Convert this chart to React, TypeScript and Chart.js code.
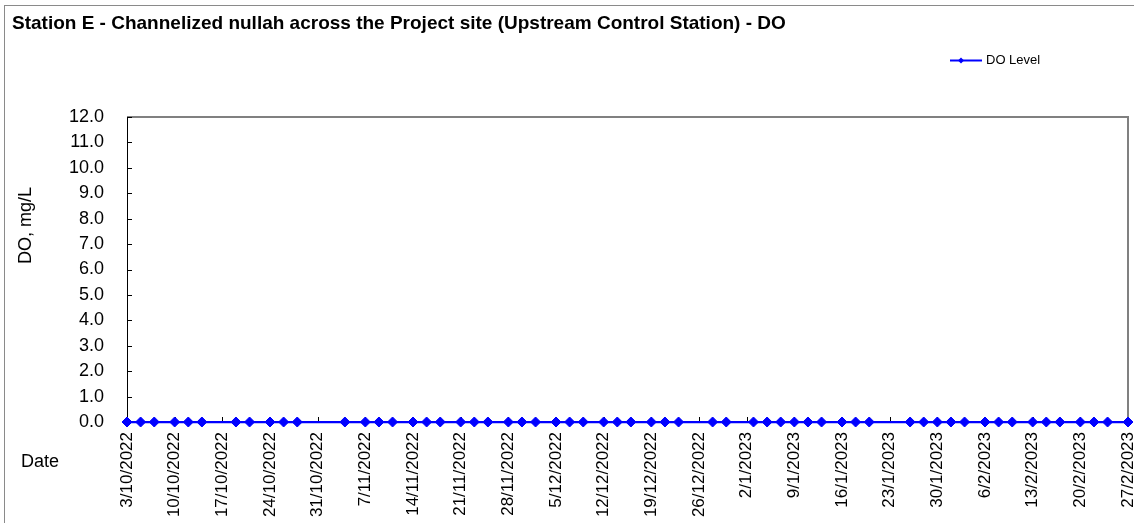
import React, { useEffect, useRef } from "react";
import { Chart, registerables } from "chart.js";

Chart.register(...registerables);

// ---------- data ----------
const CHART_TITLE =
  "Station E - Channelized nullah across the Project site (Upstream Control Station) - DO";
const SERIES_LABEL = "DO Level";
const Y_AXIS_TITLE = "DO, mg/L";
const X_AXIS_TITLE = "Date";

const AXIS_START_DATE = "3/10/2022";
const AXIS_END_DATE = "27/2/2023";
const X_TICK_STEP_DAYS = 7;

const Y_MIN = 0;
const Y_MAX = 12;
const Y_STEP = 1;

const SAMPLE_DATES = [
  "3/10/2022", "5/10/2022", "7/10/2022", "10/10/2022", "12/10/2022", "14/10/2022",
  "19/10/2022", "21/10/2022", "24/10/2022", "26/10/2022", "28/10/2022",
  "4/11/2022", "7/11/2022", "9/11/2022", "11/11/2022", "14/11/2022", "16/11/2022",
  "18/11/2022", "21/11/2022", "23/11/2022", "25/11/2022", "28/11/2022", "30/11/2022",
  "2/12/2022", "5/12/2022", "7/12/2022", "9/12/2022", "12/12/2022", "14/12/2022",
  "16/12/2022", "19/12/2022", "21/12/2022", "23/12/2022", "28/12/2022", "30/12/2022",
  "3/1/2023", "5/1/2023", "7/1/2023", "9/1/2023", "11/1/2023", "13/1/2023",
  "16/1/2023", "18/1/2023", "20/1/2023", "26/1/2023", "28/1/2023", "30/1/2023",
  "1/2/2023", "3/2/2023", "6/2/2023", "8/2/2023", "10/2/2023", "13/2/2023",
  "15/2/2023", "17/2/2023", "20/2/2023", "22/2/2023", "24/2/2023", "27/2/2023",
];

const DO_VALUES = [
  0, 0, 0, 0, 0, 0,
  0, 0, 0, 0, 0,
  0, 0, 0, 0, 0, 0,
  0, 0, 0, 0, 0, 0,
  0, 0, 0, 0, 0, 0,
  0, 0, 0, 0, 0, 0,
  0, 0, 0, 0, 0, 0,
  0, 0, 0, 0, 0, 0,
  0, 0, 0, 0, 0, 0,
  0, 0, 0, 0, 0, 0,
];

// ---------- helpers ----------
const DAY_MS = 86400000;
function parseDMY(s: string): number {
  const [d, m, y] = s.split("/").map(Number);
  return Date.UTC(y, m - 1, d);
}
const START_MS = parseDMY(AXIS_START_DATE);
function dayOffset(s: string): number {
  return Math.round((parseDMY(s) - START_MS) / DAY_MS);
}
function formatDay(off: number): string {
  const dt = new Date(START_MS + off * DAY_MS);
  return `${dt.getUTCDate()}/${dt.getUTCMonth() + 1}/${dt.getUTCFullYear()}`;
}

const W = 1134;
const H = 523;
const FONT = "Arial, 'Liberation Sans', sans-serif";
const SERIES_COLOR = "#0000FF";

const decorPlugin = {
  id: "decor",
  beforeDraw(chart: any) {
    const ctx = chart.ctx;
    ctx.save();
    ctx.fillStyle = "#ffffff";
    ctx.fillRect(0, 0, chart.width, chart.height);
    ctx.strokeStyle = "#8a8a8a";
    ctx.lineWidth = 1;
    ctx.strokeRect(4.5, 5.5, chart.width + 20, chart.height + 20);
    ctx.restore();
  },
  beforeDatasetsDraw(chart: any) {
    const ctx = chart.ctx;
    const { left, right, top, bottom } = chart.chartArea;
    ctx.save();
    // top and right plot border (grey)
    ctx.strokeStyle = "#808080";
    ctx.lineWidth = 2;
    ctx.beginPath();
    ctx.moveTo(left, top);
    ctx.lineTo(right, top);
    ctx.lineTo(right, bottom);
    ctx.stroke();
    // inward tick marks
    ctx.strokeStyle = "#000000";
    ctx.lineWidth = 1;
    const ys = chart.scales.y;
    ctx.beginPath();
    ys.ticks.forEach((t: any) => {
      const py = Math.round(ys.getPixelForValue(t.value)) + 0.5;
      ctx.moveTo(left, py);
      ctx.lineTo(left + 5, py);
    });
    const xs = chart.scales.x;
    xs.ticks.forEach((t: any) => {
      const px = Math.round(xs.getPixelForValue(t.value)) + 0.5;
      ctx.moveTo(px, bottom);
      ctx.lineTo(px, bottom - 5);
    });
    ctx.stroke();
    ctx.restore();
  },
  afterDraw(chart: any) {
    const ctx = chart.ctx;
    ctx.save();
    ctx.fillStyle = "#000000";
    // title
    ctx.font = `bold 19px ${FONT}`;
    ctx.textAlign = "left";
    ctx.textBaseline = "alphabetic";
    ctx.fillText(CHART_TITLE, 12, 29);
    // legend
    const ly = 60.5;
    ctx.strokeStyle = SERIES_COLOR;
    ctx.lineWidth = 2;
    ctx.beginPath();
    ctx.moveTo(950, ly);
    ctx.lineTo(982, ly);
    ctx.stroke();
    ctx.fillStyle = SERIES_COLOR;
    ctx.beginPath();
    ctx.moveTo(961 - 3, ly);
    ctx.lineTo(961, ly - 3);
    ctx.lineTo(961 + 3, ly);
    ctx.lineTo(961, ly + 3);
    ctx.closePath();
    ctx.fill();
    ctx.fillStyle = "#000000";
    ctx.font = `13px ${FONT}`;
    ctx.textBaseline = "middle";
    ctx.fillText(SERIES_LABEL, 986, ly);
    // y axis title
    ctx.font = `18px ${FONT}`;
    ctx.save();
    ctx.translate(26, 225.5);
    ctx.rotate(-Math.PI / 2);
    ctx.textAlign = "center";
    ctx.textBaseline = "middle";
    ctx.fillText(Y_AXIS_TITLE, 0, 0);
    ctx.restore();
    // x axis title
    ctx.textAlign = "left";
    ctx.textBaseline = "middle";
    ctx.fillText(X_AXIS_TITLE, 21, 462);
    ctx.restore();
  },
};

export default function App() {
  const canvasRef = useRef<HTMLCanvasElement | null>(null);

  useEffect(() => {
    const canvas = canvasRef.current;
    if (!canvas) return;
    const points = SAMPLE_DATES.map((d, i) => ({ x: dayOffset(d), y: DO_VALUES[i] }));
    const chart = new Chart(canvas, {
      type: "line",
      data: {
        datasets: [
          {
            label: SERIES_LABEL,
            data: points,
            borderColor: SERIES_COLOR,
            backgroundColor: SERIES_COLOR,
            borderWidth: 2.25,
            pointStyle: "rectRot",
            pointRadius: 5,
            pointBorderWidth: 1,
            pointBackgroundColor: SERIES_COLOR,
            pointBorderColor: SERIES_COLOR,
            tension: 0,
            clip: false as any,
          },
        ],
      },
      options: {
        animation: false,
        responsive: false,
        devicePixelRatio: 1,
        events: [],
        layout: { padding: { top: 117, right: 2, bottom: 0, left: 0 } },
        plugins: {
          legend: { display: false },
          title: { display: false },
          tooltip: { enabled: false },
        },
        scales: {
          x: {
            type: "linear",
            min: 0,
            max: dayOffset(AXIS_END_DATE),
            grid: { display: false, drawTicks: false },
            border: { display: true, color: "#000000", width: 1 },
            ticks: {
              stepSize: X_TICK_STEP_DAYS,
              autoSkip: false,
              maxRotation: 90,
              minRotation: 90,
              padding: 10,
              color: "#000000",
              font: { family: FONT, size: 17 },
              callback: (v: any) => formatDay(Number(v)),
            },
            afterFit: (s: any) => {
              s.height = 101;
              s.paddingLeft = 0;
              s.paddingRight = 0;
            },
          },
          y: {
            type: "linear",
            min: Y_MIN,
            max: Y_MAX,
            grid: { display: false, drawTicks: false },
            border: { display: true, color: "#000000", width: 1 },
            ticks: {
              stepSize: Y_STEP,
              padding: 23,
              color: "#000000",
              font: { family: FONT, size: 18 },
              callback: (v: any) => Number(v).toFixed(1),
            },
            afterFit: (s: any) => {
              s.width = 127;
              s.paddingTop = 0;
              s.paddingBottom = 0;
            },
          },
        },
      },
      plugins: [decorPlugin],
    });
    return () => chart.destroy();
  }, []);

  return (
    <div style={{ position: "fixed", left: 0, top: 0, width: W, height: H, overflow: "hidden", background: "#fff" }}>
      <canvas ref={canvasRef} width={W} height={H} style={{ display: "block", width: W, height: H }} />
    </div>
  );
}
